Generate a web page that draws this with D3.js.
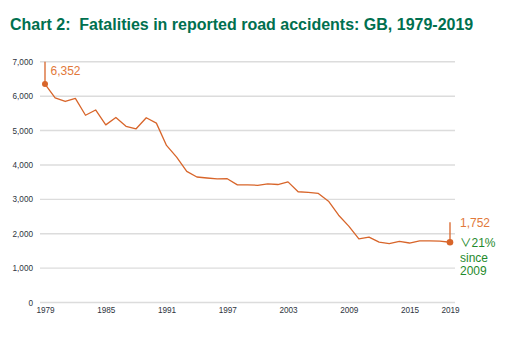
<!DOCTYPE html>
<html>
<head>
<meta charset="utf-8">
<script src="https://cdn.jsdelivr.net/npm/d3@7"></script>
<style>
  html, body { margin: 0; padding: 0; background: #ffffff; }
  svg { display: block; font-family: "Liberation Sans", Arial, sans-serif; }
  .title { white-space: pre; }
</style>
</head>
<body>
<svg id="chart" width="522" height="337"></svg>
<script>
// Reported road fatalities, Great Britain
const years = d3.range(1979, 2020);
const fatalities = [
  6352, 5953, 5846, 5934, 5445, 5599, 5165, 5382, 5125, 5052,
  5373, 5217, 4568, 4229, 3814, 3650, 3621, 3598, 3599, 3421,
  3423, 3409, 3450, 3431, 3508, 3221, 3201, 3172, 2946, 2538,
  2222, 1850, 1901, 1754, 1713, 1775, 1730, 1792, 1793, 1784,
  1752
];
const xTickYears = [1979, 1985, 1991, 1997, 2003, 2009, 2015, 2019];
const yTickValues = [0, 1000, 2000, 3000, 4000, 5000, 6000, 7000];
const titleText = "Chart 2:  Fatalities in reported road accidents: GB, 1979-2019";
const changeArrow = "\u2228";
const changeLines = ["21%", "since", "2009"];

const data = years.map((y, i) => ({ year: y, value: fatalities[i] }));

const svg = d3.select("#chart");
const lineColor = "#d8652a";
const labelOrange = "#e2793a";
const green = "#1f8a2c";

const x = d3.scaleLinear().domain([1979, 2019]).range([45, 450]);
const y = d3.scaleLinear().domain([0, 7000]).range([302.5, 61.8]);

// Title
svg.append("text")
  .attr("class", "title")
  .attr("xml:space", "preserve")
  .attr("x", 10).attr("y", 30)
  .attr("font-size", 16).attr("font-weight", "bold")
  .attr("fill", "#00704f")
  .text(titleText);

// Horizontal gridlines
svg.append("g").selectAll("line")
  .data(yTickValues).join("line")
  .attr("x1", 40).attr("x2", 455)
  .attr("y1", d => y(d)).attr("y2", d => y(d))
  .attr("stroke", "#dcdcdc").attr("stroke-width", 1.4);

// Y axis labels
const yAxis = d3.axisLeft(y).tickValues(yTickValues)
  .tickFormat(d3.format(",")).tickSize(0).tickPadding(0);
svg.append("g").attr("transform", "translate(33,0)").call(yAxis)
  .call(g => g.select(".domain").remove())
  .call(g => g.selectAll("text").attr("font-size", 8.2).attr("fill", "#2e3440")
    .attr("font-family", "'Liberation Sans', Arial, sans-serif"));

// X axis labels
const xAxis = d3.axisBottom(x).tickValues(xTickYears)
  .tickFormat(d3.format("d")).tickSize(0).tickPadding(0);
svg.append("g").attr("transform", "translate(0,307)").call(xAxis)
  .call(g => g.select(".domain").remove())
  .call(g => g.selectAll("text").attr("font-size", 8.2).attr("fill", "#2e3440")
    .attr("font-family", "'Liberation Sans', Arial, sans-serif"));

// Fatalities line
const line = d3.line().x(d => x(d.year)).y(d => y(d.value));
svg.append("path").datum(data)
  .attr("d", line)
  .attr("fill", "none")
  .attr("stroke", lineColor)
  .attr("stroke-width", 1.3)
  .attr("stroke-linejoin", "round");

// Start and end markers
const first = data[0];
const last = data[data.length - 1];

svg.append("line")
  .attr("x1", x(first.year)).attr("x2", x(first.year))
  .attr("y1", y(first.value)).attr("y2", y(7000))
  .attr("stroke", lineColor).attr("stroke-width", 1.3);
svg.append("circle")
  .attr("cx", x(first.year)).attr("cy", y(first.value)).attr("r", 3)
  .attr("fill", lineColor);
svg.append("text")
  .attr("x", x(first.year) + 5.5).attr("y", y(first.value) - 9)
  .attr("font-size", 12).attr("fill", labelOrange)
  .text(d3.format(",")(first.value));

svg.append("line")
  .attr("x1", x(last.year)).attr("x2", x(last.year))
  .attr("y1", y(last.value)).attr("y2", y(last.value) - 20)
  .attr("stroke", lineColor).attr("stroke-width", 1.3);
svg.append("circle")
  .attr("cx", x(last.year)).attr("cy", y(last.value)).attr("r", 3.3)
  .attr("fill", lineColor);
svg.append("text")
  .attr("x", x(last.year) + 10).attr("y", y(last.value) - 15)
  .attr("font-size", 12).attr("fill", labelOrange)
  .text(d3.format(",")(last.value));

// Change since 2009
const lineYs = [246.5, 261.5, 274.5];
const changeText = svg.append("g").selectAll("text")
  .data(changeLines).join("text")
  .attr("x", x(last.year) + 10)
  .attr("y", (d, i) => lineYs[i])
  .attr("font-size", 12).attr("fill", green);
changeText.filter((d, i) => i === 0).append("tspan")
  .attr("font-family", "'Noto Sans CJK JP', 'DejaVu Sans', sans-serif")
  .attr("font-size", 11.5)
  .attr("font-weight", 400)
  .text(changeArrow);
changeText.append("tspan").text(d => d);
</script>
</body>
</html>
